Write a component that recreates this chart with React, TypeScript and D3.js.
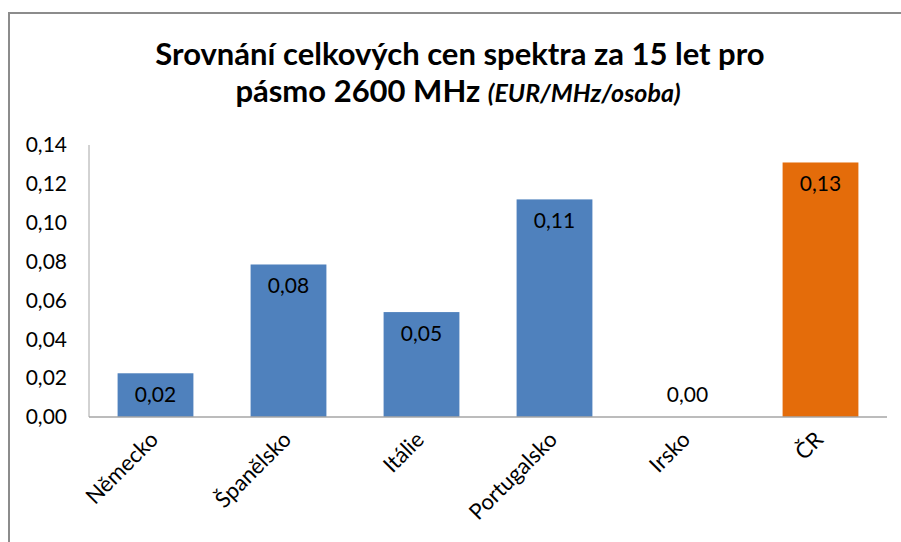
import React from 'react';
import * as d3 from 'd3';

const categories = ['Německo', 'Španělsko', 'Itálie', 'Portugalsko', 'Irsko', 'ČR'];
const values = [0.0225, 0.0785, 0.0540, 0.1120, 0.0, 0.1310];
const barColors = ['#4f81bd', '#4f81bd', '#4f81bd', '#4f81bd', '#4f81bd', '#e46c0a'];
const yTicks = [0, 0.02, 0.04, 0.06, 0.08, 0.1, 0.12, 0.14];

const W = 901;
const H = 542;
const font = 'Lato, "Open Sans", sans-serif';

const fmt = (v: number) => v.toFixed(2).replace('.', ',');

export default function App() {
  const x = d3.scaleBand<string>()
    .domain(categories)
    .range([89, 887])
    .paddingInner(0.43)
    .paddingOuter(0.215);

  const y = d3.scaleLinear().domain([0, 0.14]).range([417, 145]);

  return (
    <svg width={W} height={H} style={{ position: 'absolute', left: 0, top: 0, background: '#fff' }}
      fontFamily={font}>
      {/* chart frame */}
      <path d={`M9,${H} V13 H${W}`} fill="none" stroke="#8c8c8c" strokeWidth={2} />

      {/* title */}
      <text x={460} y={65} textAnchor="middle" fontSize={31} fontWeight="bold" fill="#000">
        Srovnání celkových cen spektra za 15 let pro
      </text>
      <text x={458} y={102} textAnchor="middle" fontSize={31} fontWeight="bold" fill="#000">
        <tspan>pásmo 2600 MHz </tspan>
        <tspan fontStyle="italic" fontSize={25}>(EUR/MHz/osoba)</tspan>
      </text>

      {/* y axis */}
      <line x1={89} x2={89} y1={y(0.14)} y2={y(0)} stroke="#a6a6a6" strokeWidth={1} />
      {yTicks.map((t) => (
        <text key={t} x={67} y={y(t)} dy="0.35em" textAnchor="end" fontSize={21} fill="#000">
          {fmt(t)}
        </text>
      ))}

      {/* bars */}
      {categories.map((c, i) => (
        <rect key={c} x={x(c)} y={y(values[i])} width={x.bandwidth()}
          height={y(0) - y(values[i])} fill={barColors[i]} />
      ))}

      {/* baseline */}
      <line x1={89} x2={887} y1={y(0)} y2={y(0)} stroke="#a6a6a6" strokeWidth={1.5} />

      {/* data labels */}
      {categories.map((c, i) => (
        <text key={c} x={(x(c) ?? 0) + x.bandwidth() / 2}
          y={Math.min(y(values[i]) + 29, y(0) - 15)}
          textAnchor="middle" fontSize={21} fill="#000">
          {fmt(values[i])}
        </text>
      ))}

      {/* category labels */}
      {categories.map((c) => {
        const cx = (x(c) ?? 0) + x.bandwidth() / 2 + 4;
        return (
          <text key={c} transform={`translate(${cx},441) rotate(-45)`} textAnchor="end"
            fontSize={22} fill="#000">
            {c}
          </text>
        );
      })}
    </svg>
  );
}
